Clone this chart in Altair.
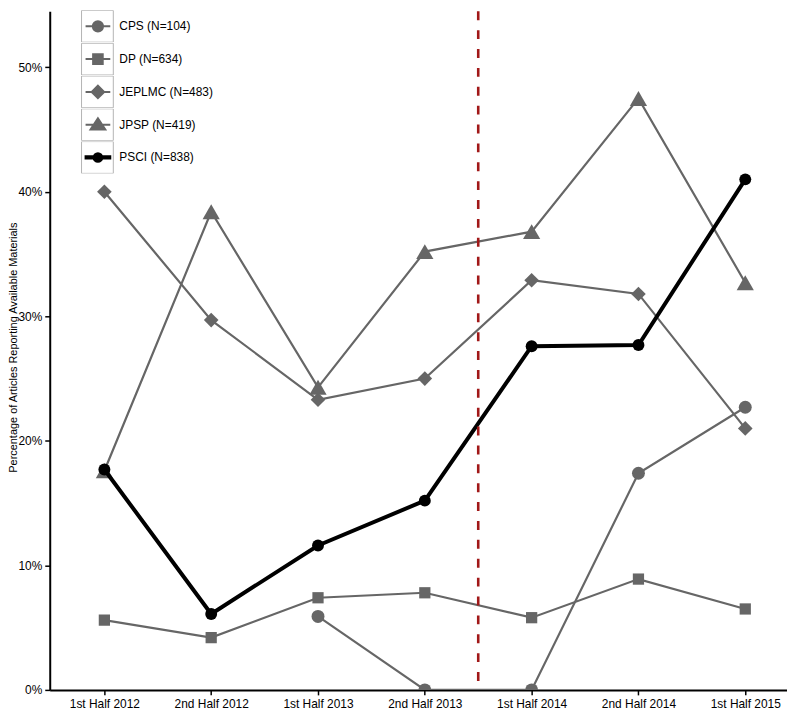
import json
import altair as alt
import pandas as pd

# ---------------- data ----------------
periods = ["1st Half 2012", "2nd Half 2012", "1st Half 2013", "2nd Half 2013",
           "1st Half 2014", "2nd Half 2014", "1st Half 2015"]
series_names = ["CPS (N=104)", "DP (N=634)", "JEPLMC (N=483)", "JPSP (N=419)", "PSCI (N=838)"]
cps = [None, None, 5.9, 0.0, 0.0, 17.4, 22.7]
dp = [5.6, 4.2, 7.4, 7.8, 5.8, 8.9, 6.5]
jeplmc = [40.0, 29.7, 23.3, 25.0, 32.9, 31.8, 21.0]
jpsp = [17.6, 38.4, 24.3, 35.2, 36.8, 47.5, 32.7]
psci = [17.7, 6.1, 11.6, 15.2, 27.6, 27.7, 41.0]
divider = [4.5]          # halfway between 2nd Half 2013 and 1st Half 2014
y_ticks = [0, 0.1, 0.2, 0.3, 0.4, 0.5]

all_series = [cps, dp, jeplmc, jpsp, psci]
rows = []
for name, vals in zip(series_names, all_series):
    for i, v in enumerate(vals):
        if v is not None:
            rows.append({"series": name, "idx": i + 1, "period": periods[i], "value": v / 100})
df = pd.DataFrame(rows)
div_df = pd.DataFrame({"idx": divider})

# ---------------- styling ----------------
GRAY = "#666666"
PSCI = series_names[-1]
FONT = "Liberation Sans"

x_scale = alt.Scale(domain=[0.4884, 7.3907], nice=False, zero=False)
y_scale = alt.Scale(domain=[0, 0.545], nice=False, zero=True)

label_expr = json.dumps(periods) + "[datum.value - 1]"
x_enc = alt.X("idx:Q", scale=x_scale,
              axis=alt.Axis(values=list(range(1, len(periods) + 1)), labelExpr=label_expr,
                            title=None, grid=False, labelPadding=4))
y_enc = alt.Y("value:Q", scale=y_scale,
              axis=alt.Axis(values=y_ticks, format=".0%", grid=False, labelPadding=3,
                            title="Percentage of Articles Reporting Available Materials",
                            titleFontSize=11, titleFontWeight="normal",
                            titleX=-36, titleY=338, titleBaseline="middle",
                            titleAlign="center", titleAngle=270,
                            titleFont=FONT, titleColor="black"))

base = alt.Chart(df)

gray_shapes = ["circle", "square", "diamond", "triangle-up"]
gray_sizes = [169, 128, 216, 300]

layers = []
for name in series_names[:4]:
    layers.append(base.transform_filter(alt.datum.series == name)
                  .mark_line(color=GRAY, strokeWidth=2.2, clip=True)
                  .encode(x=x_enc, y=y_enc))
for name, shp, sz in zip(series_names[:4], gray_shapes, gray_sizes):
    layers.append(base.transform_filter(alt.datum.series == name)
                  .mark_point(filled=True, color=GRAY, opacity=1, shape=shp, size=sz, clip=True)
                  .encode(x=x_enc, y=y_enc))

black = base.transform_filter(alt.datum.series == PSCI)
layers.append(black.mark_line(color="black", strokeWidth=4, clip=True).encode(x=x_enc, y=y_enc))
layers.append(black.mark_point(filled=True, color="black", opacity=1, size=144,
                               shape="circle", clip=True).encode(x=x_enc, y=y_enc))

layers.append(alt.Chart(div_df).mark_rule(color="#a11818", strokeWidth=2.6, strokeDash=[9, 10])
              .encode(x=alt.X("idx:Q", scale=x_scale)))

# ---------------- legend (boxed cells with line+marker symbols) ----------------
SYM = 1043
CLIP = 32.3
extent = "M-1,-1L-1,-1M1,1L1,1 "          # invisible corner points -> full cell bounds
gline = "M-0.77,0H0.77 "
bline = "M-0.77,-0.07H0.77V0.07H-0.77Z "
marker_paths = [
    extent + gline + "M0.32,0A0.32,0.32,0,1,1,-0.32,0A0.32,0.32,0,1,1,0.32,0Z",
    extent + gline + "M-0.3,-0.3H0.3V0.3H-0.3Z",
    extent + gline + "M0,-0.39L0.39,0L0,0.39L-0.39,0Z",
    extent + gline + "M0,-0.4L0.46,0.3L-0.46,0.3Z",
    extent + bline + "M0.27,0A0.27,0.27,0,1,1,-0.27,0A0.27,0.27,0,1,1,0.27,0Z",
]
box_path = "M-0.99,-0.99H0.99V0.99H-0.99Z"
box_domain = ["cell " + s for s in series_names]


def legend(**kw):
    return alt.Legend(orient="none", legendX=31, legendY=-1, title=None,
                      rowPadding=0, padding=0, symbolSize=SYM, symbolOpacity=1,
                      clipHeight=CLIP,
                      labelFont=FONT, labelFontSize=12, labelColor="black",
                      labelOffset=4, labelLimit=300, **kw)


leg_base = base.transform_filter("false")

legend_box = leg_base.transform_calculate(cell="'cell ' + datum.series").mark_point(
    filled=False, opacity=1, stroke="#b3b3b3", strokeWidth=1, size=SYM, shape=box_path
).encode(
    x=x_enc, y=y_enc,
    opacity=alt.Opacity("cell:N", scale=alt.Scale(domain=box_domain, range=[1, 1, 1, 1, 1]),
                        legend=legend(labelExpr="''", symbolType=box_path,
                                      symbolStrokeColor="#b3b3b3",
                                      symbolFillColor="transparent", symbolStrokeWidth=1)))

sym_colors = [GRAY, GRAY, GRAY, GRAY, "black"]
legend_sym = leg_base.mark_point(filled=True, opacity=1, size=SYM).encode(
    x=x_enc, y=y_enc,
    shape=alt.Shape("series:N", scale=alt.Scale(domain=series_names, range=marker_paths),
                    legend=legend(symbolStrokeWidth=2)),
    fill=alt.Fill("series:N", scale=alt.Scale(domain=series_names, range=sym_colors),
                  legend=legend(symbolStrokeWidth=2)),
    stroke=alt.Stroke("series:N", scale=alt.Scale(domain=series_names, range=sym_colors),
                      legend=legend(symbolStrokeWidth=2)))

layers += [legend_box, legend_sym]

chart = alt.layer(*layers).properties(
    width=742, height=683,
    autosize=alt.AutoSizeParams(type="none"),
    padding={"left": 42, "top": 1, "right": 0, "bottom": 28},
).configure_view(
    stroke=None
).configure_axis(
    domainColor="black", domainWidth=2, tickColor="black", tickWidth=1.5, tickSize=5,
    labelFont=FONT, labelFontSize=12, labelColor="black"
)

chart.save("out.html", embed_options={"renderer": "svg", "actions": False})
